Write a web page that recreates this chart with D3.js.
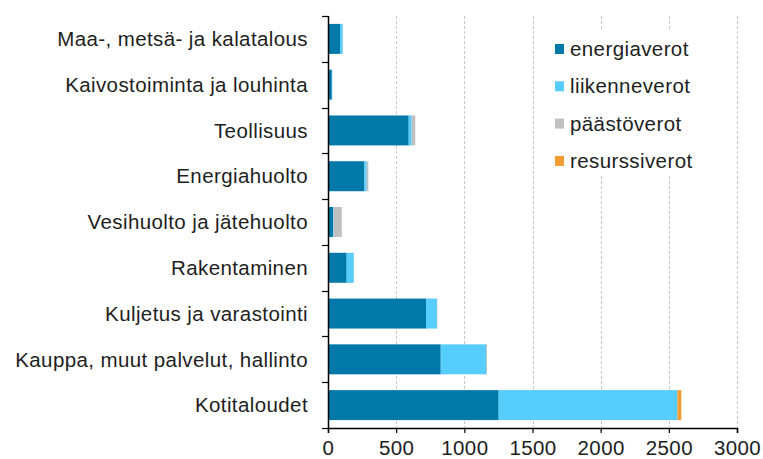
<!DOCTYPE html>
<html>
<head>
<meta charset="utf-8">
<script src="https://cdn.jsdelivr.net/npm/d3@7"></script>
<style>
  body { margin: 0; background: #fff; }
  text { font-family: "Liberation Sans", Arial, sans-serif; fill: #1e1e1e; }
</style>
</head>
<body>
<svg id="chart" width="763" height="459"></svg>
<script>
// toimialat ylhäältä alas
var categories = [
    'Maa-, metsä- ja kalatalous',
    'Kaivostoiminta ja louhinta',
    'Teollisuus',
    'Energiahuolto',
    'Vesihuolto ja jätehuolto',
    'Rakentaminen',
    'Kuljetus ja varastointi',
    'Kauppa, muut palvelut, hallinto',
    'Kotitaloudet'
];
var energiaverot  = [88, 28, 592, 267, 38, 137, 719, 827, 1252];
var liikenneverot = [20, 3, 22, 17, 3, 52, 80, 332, 1311];
var paastoverot   = [3, 1, 26, 12, 60, 2, 3, 7, 0];
var resurssiverot = [0, 0, 0, 0, 0, 0, 0, 0, 29];
var seriesNames = ['energiaverot', 'liikenneverot', 'päästöverot', 'resurssiverot'];
var colors = ['#0079a9', '#57cdfe', '#c0c0c0', '#f39c34'];
var xTicks = [0, 500, 1000, 1500, 2000, 2500, 3000];

var svg = d3.select('#chart');
var margin = {left: 328, top: 16, right: 26, bottom: 31};
var width = 763 - margin.left - margin.right;
var height = 459 - margin.top - margin.bottom;
var fontSize = '20.5px';
var spacing = '0.4px';

var rows = categories.map(function(c, i) {
    return {cat: c, energiaverot: energiaverot[i], liikenneverot: liikenneverot[i],
        'päästöverot': paastoverot[i], resurssiverot: resurssiverot[i]};
});
var stacked = d3.stack().keys(seriesNames)(rows);

var x = d3.scaleLinear().domain([0, 3000]).range([0, width]);
var y = d3.scaleBand().domain(categories).range([0, height]).paddingInner(0.345).paddingOuter(0.1725);

var g = svg.append('g').attr('transform', 'translate(' + margin.left + ',' + margin.top + ')');

// gridlines
g.selectAll('line.grid').data(xTicks.slice(1)).enter().append('line')
    .attr('class', 'grid')
    .attr('x1', function(d) { return Math.round(x(d)) + 0.5; })
    .attr('x2', function(d) { return Math.round(x(d)) + 0.5; })
    .attr('y1', 0).attr('y2', height)
    .attr('stroke', '#c8c8c8').attr('stroke-dasharray', '3,2');

// bars
g.selectAll('g.series').data(stacked).enter().append('g')
    .attr('class', 'series')
    .attr('fill', function(d, i) { return colors[i]; })
    .selectAll('rect').data(function(d) { return d; }).enter().append('rect')
    .attr('x', function(d) { return x(d[0]); })
    .attr('width', function(d) { return x(d[1]) - x(d[0]); })
    .attr('y', function(d) { return y(d.data.cat); })
    .attr('height', y.bandwidth());

// legend box covering gridlines
var legend = svg.append('g').attr('transform', 'translate(547,30)');
legend.append('rect').attr('width', 186).attr('height', 146).attr('fill', '#fff');
seriesNames.forEach(function(name, i) {
    var row = legend.append('g').attr('transform', 'translate(8,' + (19 + i * 37.3) + ')');
    row.append('rect').attr('x', 0).attr('y', -5).attr('width', 9).attr('height', 10).attr('fill', colors[i]);
    row.append('text').attr('x', 15).attr('y', 0).attr('dy', '0.35em')
        .style('font-size', fontSize).style('letter-spacing', spacing).text(name);
});

// y axis: line with ticks at category boundaries
var bounds = d3.range(categories.length + 1).map(function(i) { return i * height / categories.length; });
g.append('line').attr('x1', 0.5).attr('x2', 0.5).attr('y1', 0).attr('y2', height)
    .attr('stroke', '#000').attr('stroke-width', 1.5);
g.selectAll('line.ytick').data(bounds).enter().append('line')
    .attr('x1', -6).attr('x2', 0.5)
    .attr('y1', function(d) { return Math.round(d) + 0.5; })
    .attr('y2', function(d) { return Math.round(d) + 0.5; })
    .attr('stroke', '#000').attr('stroke-width', 1.2);
g.selectAll('text.ylab').data(categories).enter().append('text')
    .attr('x', -20)
    .attr('y', function(d) { return y(d) + y.bandwidth() / 2; })
    .attr('dy', '0.35em')
    .attr('text-anchor', 'end')
    .style('font-size', fontSize).style('letter-spacing', spacing)
    .text(function(d) { return d; });

// x axis
var xAxis = g.append('g').attr('transform', 'translate(0,' + height + ')')
    .call(d3.axisBottom(x).tickValues(xTicks).tickSize(5).tickPadding(7).tickFormat(d3.format('d')));
xAxis.select('.domain').attr('stroke', '#000').attr('stroke-width', 1.5);
xAxis.selectAll('.tick line').attr('stroke', '#000').attr('stroke-width', 1.2);
xAxis.selectAll('.tick text').style('font-size', fontSize).style('letter-spacing', spacing)
    .attr('fill', '#1e1e1e')
    .style('font-family', '"Liberation Sans", Arial, sans-serif');
</script>
</body>
</html>
